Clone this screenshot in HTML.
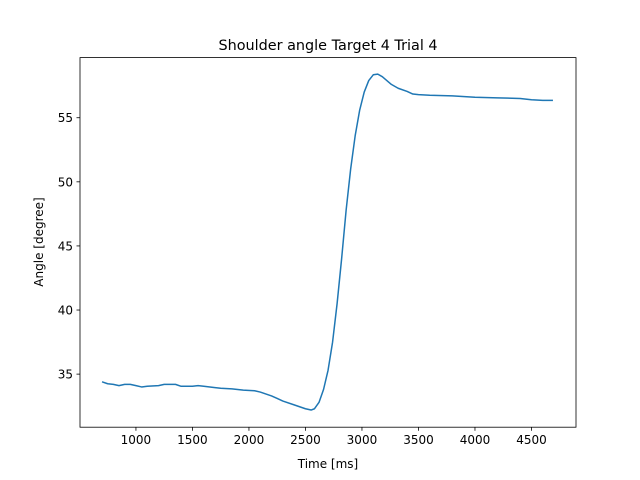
<!DOCTYPE html>
<html><head><meta charset="utf-8"><style>
body{margin:0;background:#fff;}
svg{display:block;font-family:"DejaVu Sans","Liberation Sans",sans-serif;}
</style></head><body>
<svg id="chart" width="640" height="480">
<rect width="640" height="480" fill="#fff"/>
<text x="328" y="50" font-size="14.4" text-anchor="middle">Shoulder angle Target 4 Trial 4</text>
<g id="plot"></g>
<rect x="80" y="57.6" width="496" height="369.6" fill="none" stroke="#000" stroke-width="0.8"/>
<text x="328" y="468" font-size="12" text-anchor="middle">Time [ms]</text>
<text transform="translate(43,242) rotate(-90)" font-size="12" text-anchor="middle">Angle [degree]</text>
</svg>
<script>
const times=[700,750,800,850,900,950,1000,1050,1100,1200,1250,1350,1400,1500,1550,1600,1700,1750,1850,1950,2050,2100,2200,2250,2300,2400,2500,2550,2580,2620,2660,2700,2740,2780,2820,2860,2900,2940,2980,3020,3060,3100,3140,3180,3220,3260,3320,3400,3450,3500,3600,3800,4000,4200,4400,4500,4600,4690];
const angles=[34.4,34.25,34.2,34.1,34.2,34.2,34.1,34.0,34.05,34.1,34.2,34.2,34.05,34.05,34.1,34.05,33.95,33.9,33.85,33.75,33.7,33.6,33.3,33.1,32.9,32.6,32.3,32.2,32.3,32.8,33.8,35.3,37.5,40.5,44,47.8,51,53.6,55.6,57,57.9,58.35,58.4,58.2,57.9,57.6,57.3,57.05,56.85,56.8,56.75,56.7,56.6,56.55,56.5,56.4,56.35,56.35];
const xTicks=[1000,1500,2000,2500,3000,3500,4000,4500];
const yTicks=[35,40,45,50,55];
const X0=80,X1=576,Y0=427.2,Y1=57.6;
const xmin=505,xmax=4894,ymin=30.86,ymax=59.69;
const sx=v=>X0+(v-xmin)/(xmax-xmin)*(X1-X0);
const sy=v=>Y0-(v-ymin)/(ymax-ymin)*(Y0-Y1);
const NS='http://www.w3.org/2000/svg';
const g=document.getElementById('plot');
function mk(t,a){const e=document.createElementNS(NS,t);for(const k in a)e.setAttribute(k,a[k]);g.appendChild(e);return e;}
xTicks.forEach(v=>{
 const l=mk('line',{x1:sx(v),x2:sx(v),y1:Y0,y2:Y0+3.5,stroke:'#000','stroke-width':0.8});
 
 
 const t=mk('text',{x:sx(v),y:Y0+17,'font-size':12,'text-anchor':'middle'});
 t.textContent=v;
 
 
});
yTicks.forEach(v=>{
 const l=mk('line',{x1:X0-3.5,x2:X0,y1:sy(v),y2:sy(v),stroke:'#000','stroke-width':0.8});
 
 
 const t=mk('text',{x:X0-7,y:sy(v)+4.5,'font-size':12,'text-anchor':'end'});
 t.textContent=v;
 
 
});
const p=mk('polyline',{points:times.map((t,i)=>sx(t)+','+sy(angles[i])).join(' '),fill:'none',stroke:'#1f77b4','stroke-width':1.5,'stroke-linejoin':'round'});


</script>
</body></html>
